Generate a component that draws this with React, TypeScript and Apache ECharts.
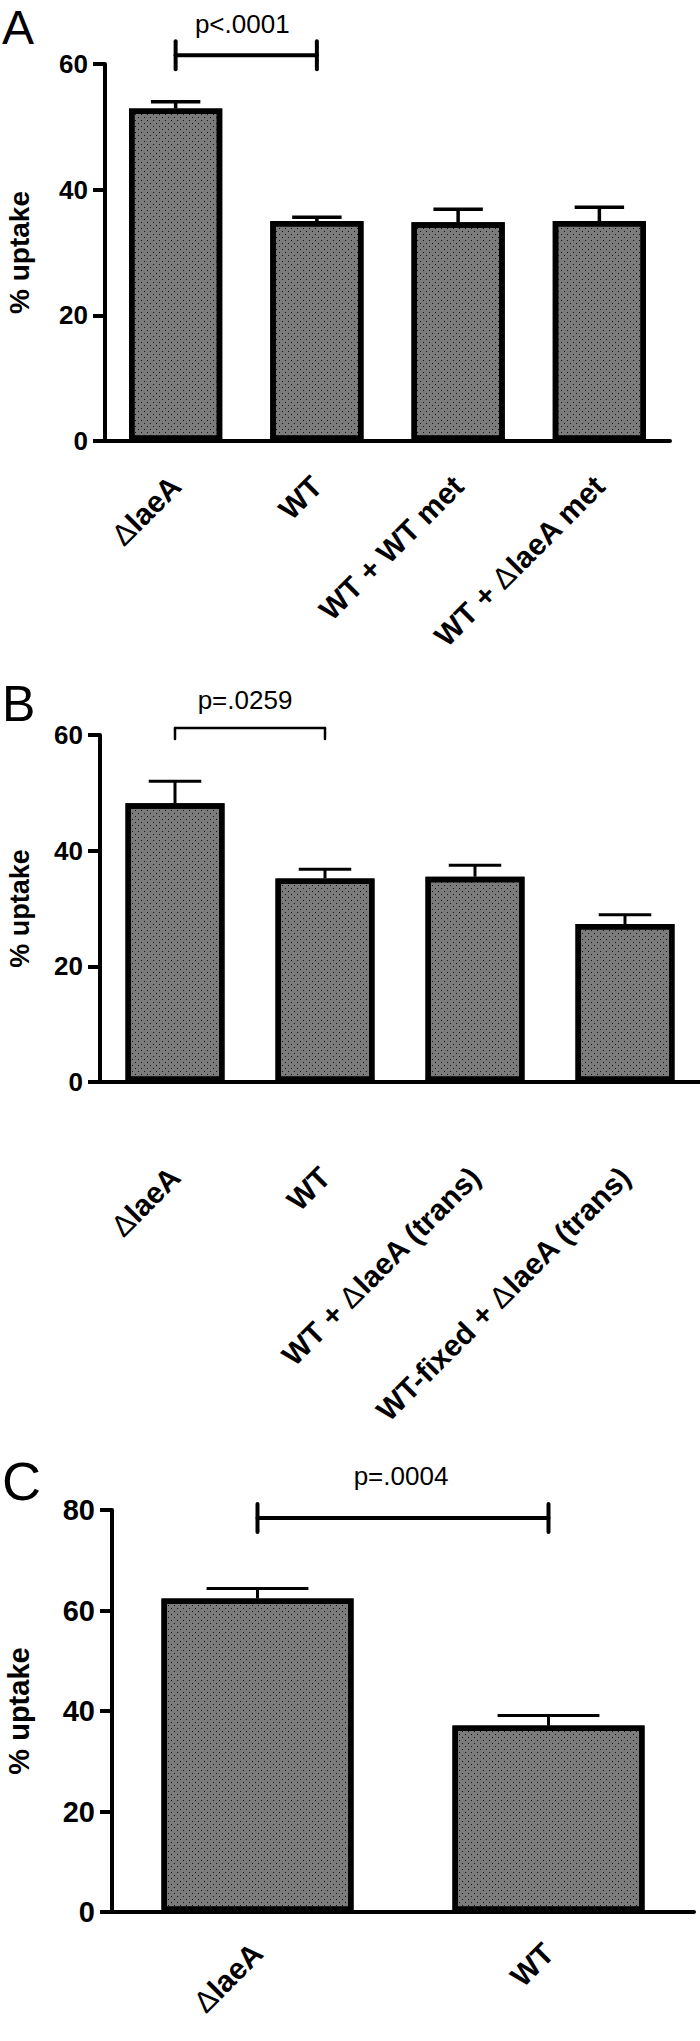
import React, { useEffect, useRef } from 'react';
import * as echarts from 'echarts';

const FONT = '"Liberation Sans", Arial, Helvetica, sans-serif';

// ---- Panel A ----
const catA = ['ΔlaeA', 'WT', 'WT + WT met', 'WT + ΔlaeA met'];
const meanA = [52.9, 35.0, 34.8, 35.0];
const upperA = [54.0, 35.6, 36.9, 37.2];
const yMaxA = 60;
const sigA = { label: 'p<.0001', from: 0, to: 1, level: 61.4 };

// ---- Panel B ----
const catB = ['ΔlaeA', 'WT', 'WT + ΔlaeA (trans)', 'WT-fixed + ΔlaeA (trans)'];
const meanB = [48.2, 35.2, 35.5, 27.3];
const upperB = [52.0, 36.8, 37.5, 28.9];
const yMaxB = 60;
const sigB = { label: 'p=.0259', from: 0, to: 1, level: 61.2 };

// ---- Panel C ----
const catC = ['ΔlaeA', 'WT'];
const meanC = [62.4, 37.1];
const upperC = [64.4, 39.1];
const yMaxC = 80;
const sigC = { label: 'p=.0004', from: 0, to: 1, level: 78.4 };

const yInterval = 20;

const labelFormatter = (v: string) => v.replace('Δ', '{d|Δ}');

function errorRender(lw: number) {
  return (params: any, api: any) => {
    const i = api.value(0);
    const lo = api.coord([i, api.value(1)]);
    const hi = api.coord([i, api.value(2)]);
    const half = api.size([1, 0])[0] * 0.175;
    const style = { stroke: '#000', lineWidth: lw };
    return {
      type: 'group',
      children: [
        { type: 'line', shape: { x1: lo[0], y1: lo[1], x2: hi[0], y2: hi[1] }, style },
        { type: 'line', shape: { x1: hi[0] - half, y1: hi[1], x2: hi[0] + half, y2: hi[1] }, style },
      ],
    };
  };
}

function bracketRender(label: string, kind: 'T' | 'leg', lw: number, ext: number, textGap: number, fs: number, dx: number) {
  return (params: any, api: any) => {
    const a = api.coord([api.value(0), api.value(2)]);
    const b = api.coord([api.value(1), api.value(2)]);
    const y = a[1];
    const style = { stroke: '#000', lineWidth: lw, lineCap: 'round' };
    const children: any[] = [
      { type: 'line', shape: { x1: a[0], y1: y, x2: b[0], y2: y }, style },
    ];
    if (kind === 'T') {
      children.push({ type: 'line', shape: { x1: a[0], y1: y - ext, x2: a[0], y2: y + ext }, style });
      children.push({ type: 'line', shape: { x1: b[0], y1: y - ext, x2: b[0], y2: y + ext }, style });
    } else {
      children.push({ type: 'line', shape: { x1: a[0], y1: y, x2: a[0], y2: y + ext }, style });
      children.push({ type: 'line', shape: { x1: b[0], y1: y, x2: b[0], y2: y + ext }, style });
    }
    children.push({
      type: 'text',
      x: (a[0] + b[0]) / 2 + dx,
      y: y - textGap,
      style: { text: label, fontSize: fs, fontFamily: FONT, fill: '#000', align: 'center', verticalAlign: 'middle' },
    });
    return { type: 'group', children };
  };
}

const barItemStyle = {
  color: '#7b7b7b',
  borderColor: '#000',
  borderWidth: 5.5,
  decal: {
    symbol: 'rect',
    symbolSize: 1,
    color: '#111',
    dashArrayX: [[1, 5], [0, 3, 1, 2]],
    dashArrayY: [1, 2],
  },
};

function xAxisFor(idx: number, data: string[], fs: number, margin: number) {
  return {
    type: 'category',
    gridIndex: idx,
    data,
    axisLine: { lineStyle: { color: '#000', width: 4 } },
    axisTick: { alignWithLabel: true, length: 14, lineStyle: { color: '#000', width: 4 } },
    axisLabel: {
      interval: 0,
      rotate: 45,
      margin,
      align: 'right',
      color: '#000',
      fontSize: fs,
      fontWeight: 'bold',
      fontFamily: FONT,
      formatter: labelFormatter,
      rich: { d: { fontSize: fs, fontWeight: 'normal', fontFamily: FONT, color: '#000' } },
    },
    splitLine: { show: false },
  };
}

function yAxisFor(idx: number, max: number, fs: number, nameGap: number, nameFs: number) {
  return {
    type: 'value',
    gridIndex: idx,
    min: 0,
    max,
    interval: yInterval,
    name: '% uptake',
    nameLocation: 'middle',
    nameRotate: 90,
    nameGap,
    nameTextStyle: { fontSize: nameFs, fontWeight: 'bold', fontFamily: FONT, color: '#000' },
    axisLine: { show: true, lineStyle: { color: '#000', width: 4 } },
    axisTick: { show: true, length: 12, lineStyle: { color: '#000', width: 4 } },
    axisLabel: { color: '#000', fontSize: fs, fontWeight: 'bold', fontFamily: FONT, margin: 17 },
    splitLine: { show: false },
  };
}

function seriesFor(idx: number, means: number[], uppers: number[], sig: any, errLw: number, br: any) {
  return [
    {
      type: 'bar',
      xAxisIndex: idx,
      yAxisIndex: idx,
      data: means,
      barWidth: '66%',
      itemStyle: barItemStyle,
      z: 2,
    },
    {
      type: 'custom',
      xAxisIndex: idx,
      yAxisIndex: idx,
      clip: false,
      z: 3,
      encode: { x: 0, y: [1, 2] },
      data: means.map((m, i) => [i, m, uppers[i]]),
      renderItem: errorRender(errLw),
    },
    {
      type: 'custom',
      xAxisIndex: idx,
      yAxisIndex: idx,
      clip: false,
      z: 3,
      encode: { x: 0, y: 2 },
      data: [[sig.from, sig.to, sig.level]],
      renderItem: bracketRender(sig.label, br.kind, br.lw, br.ext, br.textGap, br.fs, br.dx),
    },
  ];
}

export default function App() {
  const ref = useRef<HTMLDivElement>(null);
  useEffect(() => {
    if (!ref.current) return;
    const chart = echarts.init(ref.current, null, { renderer: 'svg' });
    const option: any = {
      animation: false,
      backgroundColor: '#fff',
      grid: [
        { left: 105, top: 64, width: 565, height: 377, outerBoundsMode: 'none' },
        { left: 100, top: 735, width: 600, height: 347, outerBoundsMode: 'none' },
        { left: 112, top: 1510, width: 582, height: 402, outerBoundsMode: 'none' },
      ],
      xAxis: [
        xAxisFor(0, catA, 30, 40),
        xAxisFor(1, catB, 30, 90),
        xAxisFor(2, catC, 30, 36),
      ],
      yAxis: [
        yAxisFor(0, yMaxA, 26, 72, 28),
        yAxisFor(1, yMaxB, 26, 67, 27),
        yAxisFor(2, yMaxC, 29, 79, 29),
      ],
      series: [
        ...seriesFor(0, meanA, upperA, sigA, 3.5, { kind: 'T', lw: 4, ext: 14, textGap: 31, fs: 26, dx: -4 }),
        ...seriesFor(1, meanB, upperB, sigB, 3, { kind: 'leg', lw: 2.5, ext: 11, textGap: 28, fs: 26, dx: -5 }),
        ...seriesFor(2, meanC, upperC, sigC, 3, { kind: 'T', lw: 4, ext: 14, textGap: 42, fs: 26, dx: -2 }),
      ],
      graphic: [
        { type: 'text', x: 2, y: 27, style: { text: 'A', fontSize: 48, fontFamily: FONT, fill: '#000', verticalAlign: 'middle' } },
        { type: 'text', x: 2, y: 704, style: { text: 'B', fontSize: 50, fontFamily: FONT, fill: '#000', verticalAlign: 'middle' } },
        { type: 'text', x: 2, y: 1481, style: { text: 'C', fontSize: 54, fontFamily: FONT, fill: '#000', verticalAlign: 'middle' } },
      ],
    };
    chart.setOption(option);
    return () => chart.dispose();
  }, []);
  return (
    <div
      ref={ref}
      style={{ position: 'absolute', left: 0, top: 0, width: 700, height: 2041, background: '#fff' }}
    />
  );
}
